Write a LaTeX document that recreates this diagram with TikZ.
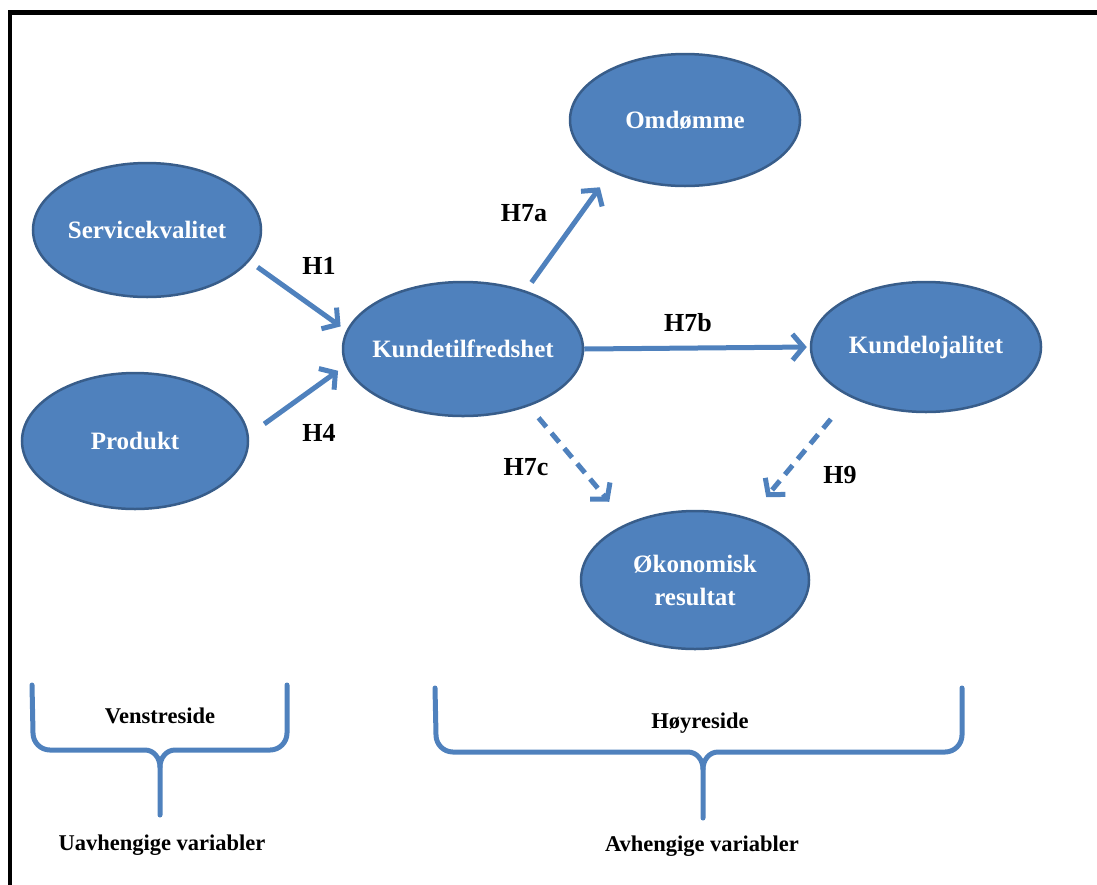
\documentclass[tikz,border=0pt]{standalone}
\usepackage{fontspec}
\setmainfont{Liberation Serif}
\usetikzlibrary{shapes.geometric,arrows.meta}
\definecolor{boxblue}{HTML}{4F81BD}
\definecolor{edgeblue}{HTML}{385D8A}
\begin{document}
\begin{tikzpicture}[x=1pt,y=-1pt,
  construct/.style={ellipse, fill=boxblue, draw=edgeblue, line width=2.5pt,
    inner xsep=-12pt, inner ysep=0pt, text=white, align=center,
    font=\fontsize{25}{33}\selectfont\bfseries},
  hyp/.style={font=\fontsize{26}{28}\selectfont\bfseries},
  side/.style={font=\fontsize{22.5}{26}\selectfont\bfseries},
  link/.style={draw=boxblue, line width=5pt,
    -{Straight Barb[length=11pt,width=26pt]}},
  weak/.style={link, dash pattern=on 12pt off 8pt},
  brace/.style={draw=boxblue, line width=5pt, line join=round, line cap=round}]

\useasboundingbox (0,0) rectangle (1097,884);

% frame
\draw[line width=4.5pt] (10,890) -- (10,12.5) -- (1105,12.5);

% constructs
\node[construct, minimum width=228pt, minimum height=134pt] (s) at (147,230) {Servicekvalitet};
\node[construct, minimum width=226pt, minimum height=136pt] (p) at (135,441) {Produkt};
\node[construct, minimum width=240pt, minimum height=134pt] (k) at (463,349) {Kundetilfredshet};
\node[construct, minimum width=230pt, minimum height=132pt] (o) at (685,120) {Omdømme};
\node[construct, minimum width=230pt, minimum height=130pt] (l) at (926,347) {Kundelojalitet};
\node[construct, minimum width=228pt, minimum height=138pt] (r) at (695,580) {Økonomisk\\resultat};

% hypotheses
\draw[link, shorten <=10pt, shorten >=7pt] (s.-17.8) -- (k.171.2);
\draw[link, shorten <=19pt, shorten >=9pt] (p.3.9) -- (k.188.2);
\draw[link, shorten <=10pt, shorten >=19pt] (k.43.7) -- (o.215.9);
\draw[link, shorten >=3pt] (k.east) -- (l.west);
\draw[weak, shorten <=15pt, shorten >=28pt] (k.-41.9) -- (r.140.8);
\draw[weak, shorten <=29pt, shorten >=27pt] (l.213) -- (r.49.1);

\node[hyp] (h1) at (319,266) {H1};
\node[hyp] (h4) at (319,433) {H4};
\node[hyp] (h7a) at (524,213) {H7a};
\node[hyp] (h7b) at (688,323) {H7b};
\node[hyp] (h7c) at (526,467) {H7c};
\node[hyp] (h9) at (840,475) {H9};

% braces
\draw[brace] (32,685) -- (33,733) to[out=-90,in=180] (50,750) -- (145,750)
  to[out=0,in=90] (160,767) -- (160,815);
\draw[brace] (160,767) to[out=90,in=180] (175,750) -- (270,750)
  to[out=0,in=-90] (287,733) -- (287,685);
\draw[brace] (435,688) -- (436,735) to[out=-90,in=180] (453,752) -- (688,752)
  to[out=0,in=90] (703,769) -- (703,818);
\draw[brace] (703,769) to[out=90,in=180] (718,752) -- (945,752)
  to[out=0,in=-90] (962,735) -- (962,688);

\node[side] (vs) at (160,716) {Venstreside};
\node[side] (uv) at (162,845) {Uavhengige variabler};
\node[side] (hs) at (700,723) {Høyreside};
\node[side] (av) at (702,846) {Avhengige variabler};
\end{tikzpicture}
\end{document}
